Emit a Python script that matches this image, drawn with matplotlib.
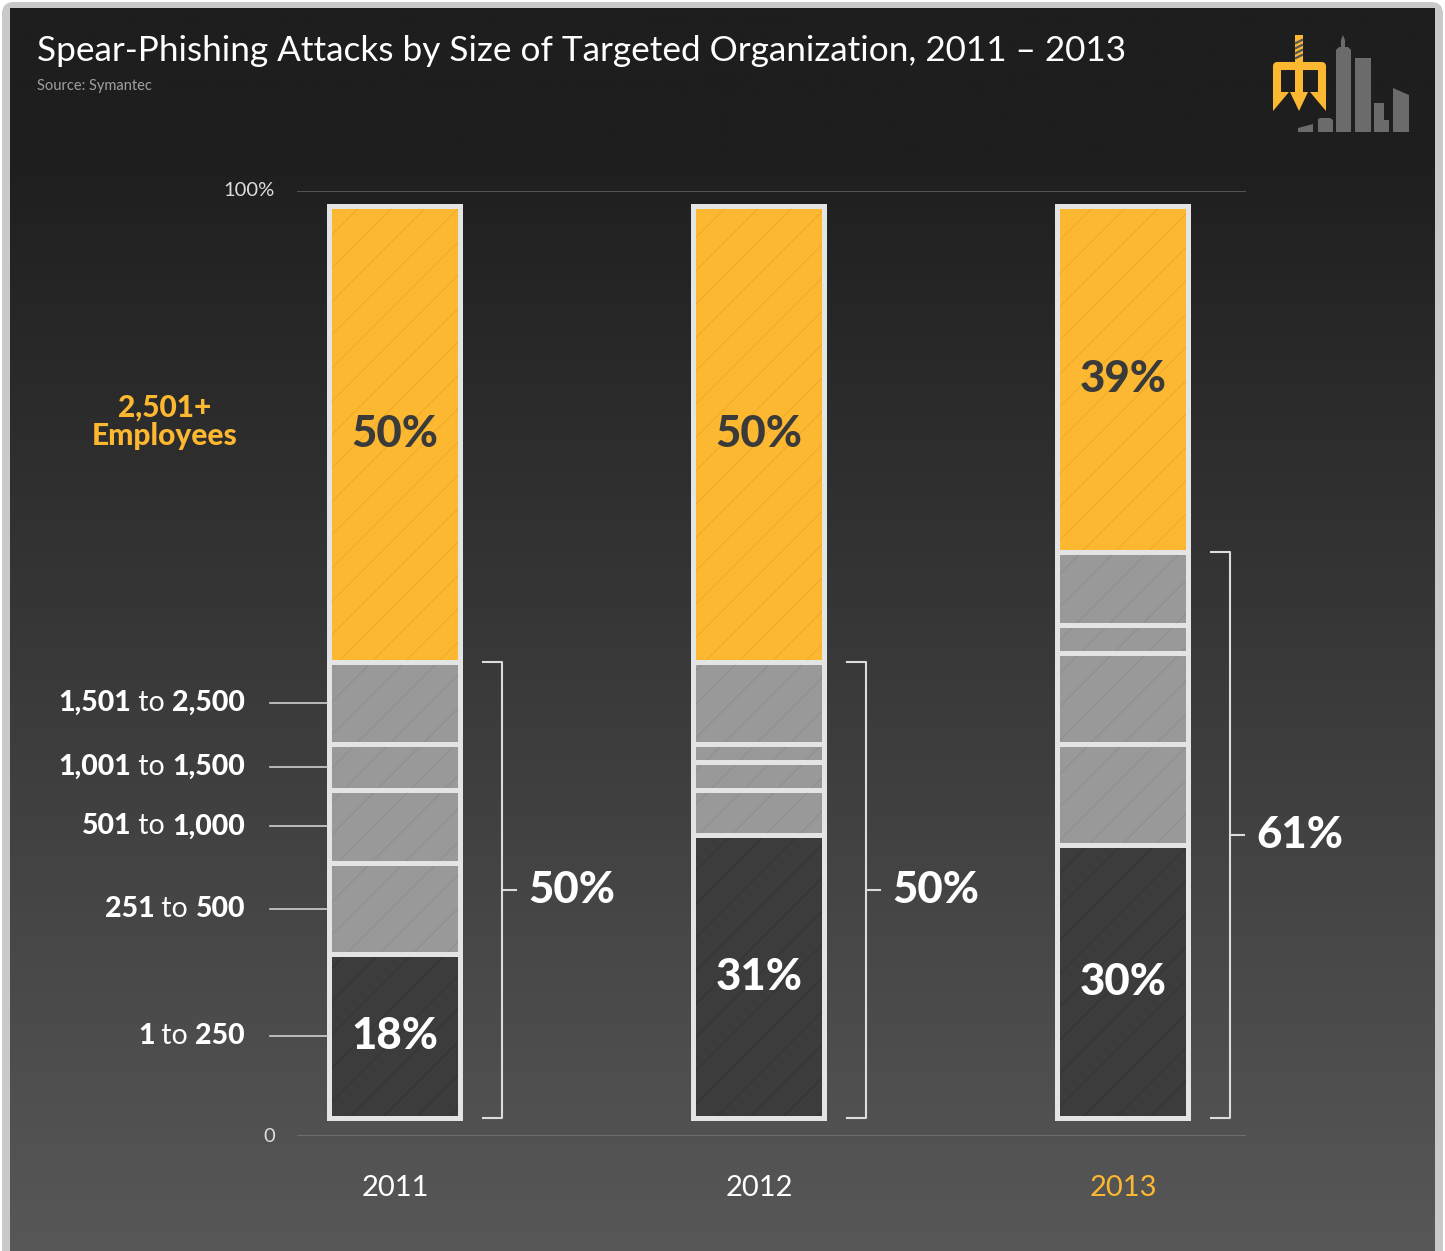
import matplotlib.pyplot as plt
import numpy as np
from matplotlib.patches import Polygon, Rectangle, FancyBboxPatch

# values (percent of attacks)
years = ["2011", "2012", "2013"]
size_groups = ["1 to 250", "251 to 500", "501 to 1,000", "1,001 to 1,500", "1,501 to 2,500"]
top_group = "2,501+\nEmployees"
share_1_250 = [18, 31, 30]
share_251_500 = [10, 5, 11]
share_501_1000 = [8, 3, 10]
share_1001_1500 = [5, 2, 3]
share_1501_2500 = [9, 9, 8]
share_2501_plus = [50, 50, 38]
top_labels = ["50%", "50%", "39%"]
bottom_labels = ["18%", "31%", "30%"]
bracket_labels = ["50%", "50%", "61%"]

W, H = 1445, 1251
YELLOW = "#fcb830"
FONT = "Lato"
plt.rcParams["font.family"] = [FONT, "DejaVu Sans"]

fig = plt.figure(figsize=(W / 100, H / 100), dpi=100)
fig.patch.set_facecolor("white")

# decoration layer in pixel coordinates
deco = fig.add_axes([0, 0, 1, 1], zorder=0)
deco.set_xlim(0, W)
deco.set_ylim(H, 0)
deco.axis("off")
deco.add_patch(FancyBboxPatch((2, 2), W - 4, H + 40, boxstyle="round,pad=0,rounding_size=12",
                              facecolor="#c9c9c9", edgecolor="none", zorder=0))
rows = np.arange(H)
shade = np.clip(33 + (rows - 200) * 0.052, 30, 90) / 255
grad = np.dstack([shade, shade, shade]).reshape(H, 1, 3)
deco.imshow(grad, extent=(10, 1435, H, 8), aspect="auto", zorder=1)

# logo
bld = "#6b6b6b"
for pts in [
    [(1336, 132), (1336, 50), (1339, 47), (1341, 47), (1341, 40), (1343, 35), (1345, 40), (1345, 47),
     (1348, 47), (1351, 50), (1351, 132)],
    [(1355, 132), (1355, 58), (1371, 58), (1371, 132)],
    [(1374, 132), (1374, 103), (1384, 103), (1384, 120), (1389, 120), (1389, 132)],
    [(1393, 132), (1393, 88), (1409, 95), (1409, 132)],
    [(1318, 132), (1318, 119), (1321, 118), (1330, 118), (1333, 120), (1333, 132)],
    [(1298, 132), (1298, 128), (1313, 124), (1313, 132)],
]:
    deco.add_patch(Polygon(pts, closed=True, facecolor=bld, edgecolor="none", zorder=2))
deco.add_patch(Rectangle((1295, 35), 8, 60, facecolor=YELLOW, edgecolor="none", zorder=3))
for yy in [41, 46, 51, 56]:
    deco.plot([1296, 1302], [yy + 2, yy - 1], color="#555555", lw=1.6, zorder=4)
deco.plot([1277, 1277, 1322, 1322], [94, 66, 66, 94], color=YELLOW, lw=5.8,
          solid_joinstyle="round", zorder=3)
for tri in [[(1273, 92), (1289, 92), (1273, 111)],
            [(1290, 92), (1308, 92), (1299, 111)],
            [(1310, 92), (1326, 92), (1326, 111)]]:
    deco.add_patch(Polygon(tri, closed=True, facecolor=YELLOW, edgecolor="none", zorder=3))

fig.text(37 / W, 1 - 51 / H, "Spear-Phishing Attacks by Size of Targeted Organization, 2011 \u2013 2013",
         color="white", fontsize=25.3, va="center", ha="left")
fig.text(37 / W, 1 - 86 / H, "Source: Symantec", color="#a0a0a0", fontsize=10.5, va="center", ha="left")

# main chart
ax = fig.add_axes([297 / W, 1 - 1136 / H, (1246 - 297) / W, (1136 - 191) / H], zorder=1)
ax.set_facecolor("none")
ax.set_xlim(-0.269, 2.338)
ax.set_ylim(-1.917, 101.59)
for s in ax.spines.values():
    s.set_visible(False)
ax.axhline(101.59, color="#555555", lw=1.4)
ax.axhline(-1.917, color="#6e6e6e", lw=1.4)
ax.set_yticks([])

x = np.arange(len(years))
width = 0.36
stack = [share_1_250, share_251_500, share_501_1000, share_1001_1500, share_1501_2500, share_2501_plus]
faces = ["#3c3c3c", "#999999", "#999999", "#999999", "#999999", YELLOW]
hatches = ["#343434", "#8e8e8e", "#8e8e8e", "#8e8e8e", "#8e8e8e", "#f0ab2a"]
plt.rcParams["hatch.linewidth"] = 0.8
bottom = np.zeros(len(years))
for vals, fc, hc in zip(stack, faces, hatches):
    vals = np.array(vals, dtype=float)
    ax.bar(x, vals, width, bottom=bottom, color=fc, edgecolor=hc, hatch="/", linewidth=0, zorder=2)
    ax.bar(x, vals, width, bottom=bottom, fill=False, edgecolor="#e4e4e4", linewidth=3.6, zorder=3)
    bottom += vals

small_total = np.sum(stack[:5], axis=0)
for i in range(len(years)):
    top_mid = small_total[i] + share_2501_plus[i] / 2
    ax.text(x[i], top_mid, top_labels[i], ha="center", va="center", fontsize=31.5,
            fontweight="black", color="#3a3a3a", zorder=4)
    ax.text(x[i], share_1_250[i] / 2, bottom_labels[i], ha="center", va="center", fontsize=31.5,
            fontweight="black", color="white", zorder=4)
    # bracket
    bx = x[i] + 0.294
    ax.plot([bx - 0.052, bx, bx, bx - 0.052], [0, 0, small_total[i], small_total[i]],
            color="#dcdcdc", lw=1.5, zorder=3)
    mid = small_total[i] / 2
    ax.plot([bx, bx + 0.038], [mid, mid], color="#dcdcdc", lw=1.5, zorder=3)
    ax.text(bx + 0.072, mid, bracket_labels[i], ha="left", va="center", fontsize=31.5,
            fontweight="black", color="white", zorder=4)

# left labels for the size groups, at the 2011 segment centers
renderer = fig.canvas.get_renderer()
cum = 0
for name, vals in zip(size_groups, stack[:5]):
    yc = cum + vals[0] / 2
    cum += vals[0]
    ax.plot([-0.343, -0.187], [yc, yc], color="#cfcfcf", lw=1.2, clip_on=False, zorder=3)
    a, b = name.split(" to ")
    pieces = [(a, "black"), (" to ", "normal"), (b, "black")]
    xd = ax.transData.transform((-0.412, yc))
    right = xd[0]
    for txt, wt in reversed(pieces):
        t = fig.text(right / W, xd[1] / H, txt, ha="right", va="center", fontsize=20.5,
                     fontweight=wt, color="white")
        right = t.get_window_extent(renderer).x0

ax.text(-0.632, small_total[0] + share_2501_plus[0] / 2 + 1.3, top_group, ha="center", va="center",
        fontsize=21.5, fontweight="black", color=YELLOW, linespacing=1.0)

ax.text(-0.33, 101.59, "100%", ha="right", va="center", fontsize=14.5, color="#dddddd")
ax.text(-0.33, -1.917, "0", ha="right", va="center", fontsize=14.5, color="#dddddd")

ax.set_xticks(x, years)
ax.tick_params(axis="x", length=0, pad=28, labelsize=21, labelcolor="white")
ax.get_xticklabels()[-1].set_color(YELLOW)

fig.savefig("out.png", dpi=100)
